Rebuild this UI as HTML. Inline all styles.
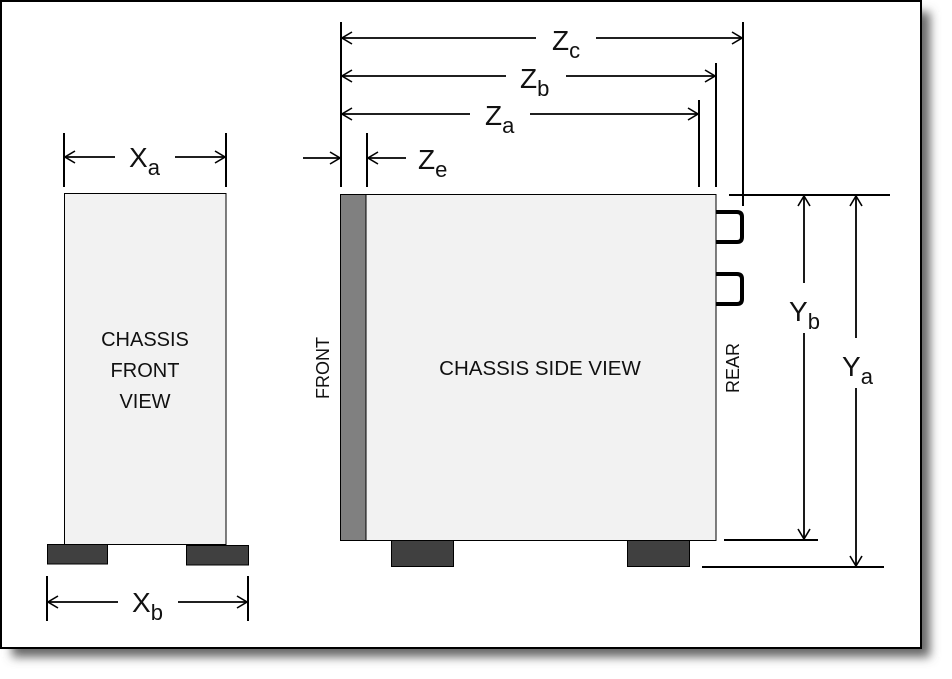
<!DOCTYPE html>
<html><head><meta charset="utf-8"><style>
html,body{margin:0;padding:0;background:#fff;}
svg{display:block;}
text{font-family:"Liberation Sans","DejaVu Sans",sans-serif;fill:#111;}
</style></head><body>
<svg width="952" height="679" viewBox="0 0 952 679" xmlns="http://www.w3.org/2000/svg">
<defs>
<filter id="sh" x="-5%" y="-5%" width="115%" height="115%">
<feGaussianBlur stdDeviation="5"/>
</filter>
<marker id="a" markerWidth="12" markerHeight="14" refX="11" refY="7" orient="auto-start-reverse" markerUnits="userSpaceOnUse">
<path d="M1,1 L11,7 L1,13" fill="none" stroke="#000" stroke-width="1.6"/>
</marker>
</defs>
<rect x="12" y="12" width="918" height="645" fill="#666" filter="url(#sh)"/>
<rect x="1" y="1" width="920" height="647" fill="#fff" stroke="#000" stroke-width="2"/>

<g stroke="#000" stroke-width="2">
<line x1="64" y1="133" x2="64" y2="187"/>
<line x1="226" y1="133" x2="226" y2="187"/>
<line x1="47" y1="576" x2="47" y2="621"/>
<line x1="248" y1="576" x2="248" y2="621"/>
<line x1="341" y1="22" x2="341" y2="187"/>
<line x1="743" y1="22" x2="743" y2="206"/>
<line x1="716" y1="63" x2="716" y2="187"/>
<line x1="699" y1="100" x2="699" y2="187"/>
<line x1="367" y1="133" x2="367" y2="187"/>
<line x1="729" y1="195" x2="890" y2="195"/>
<line x1="724" y1="540" x2="818" y2="540"/>
<line x1="702" y1="567" x2="884" y2="567"/>
</g>

<g stroke="#000" stroke-width="1.8" fill="none">
<line x1="65" y1="157" x2="115" y2="157" marker-start="url(#a)"/>
<line x1="175" y1="157" x2="225" y2="157" marker-end="url(#a)"/>
<line x1="48" y1="602" x2="118" y2="602" marker-start="url(#a)"/>
<line x1="178" y1="602" x2="247" y2="602" marker-end="url(#a)"/>
<line x1="342" y1="38" x2="536" y2="38" marker-start="url(#a)"/>
<line x1="596" y1="38" x2="742" y2="38" marker-end="url(#a)"/>
<line x1="342" y1="76" x2="506" y2="76" marker-start="url(#a)"/>
<line x1="566" y1="76" x2="715" y2="76" marker-end="url(#a)"/>
<line x1="342" y1="114" x2="470" y2="114" marker-start="url(#a)"/>
<line x1="530" y1="114" x2="698" y2="114" marker-end="url(#a)"/>
<line x1="303" y1="158" x2="340" y2="158" marker-end="url(#a)"/>
<line x1="368" y1="158" x2="406" y2="158" marker-start="url(#a)"/>
<line x1="804" y1="196" x2="804" y2="283" marker-start="url(#a)"/>
<line x1="804" y1="333" x2="804" y2="539" marker-end="url(#a)"/>
<line x1="856" y1="196" x2="856" y2="338" marker-start="url(#a)"/>
<line x1="856" y1="388" x2="856" y2="566" marker-end="url(#a)"/>
</g>

<rect x="64.5" y="193.5" width="161.5" height="351" fill="#f2f2f2" stroke="#000" stroke-width="1"/>
<rect x="47.5" y="544.5" width="60" height="19.5" fill="#404040" stroke="#000" stroke-width="1"/>
<rect x="186.5" y="545.5" width="62" height="19.5" fill="#404040" stroke="#000" stroke-width="1"/>
<text x="145" y="346" font-size="20" text-anchor="middle">CHASSIS</text>
<text x="145" y="377" font-size="20" text-anchor="middle">FRONT</text>
<text x="145" y="408" font-size="20" text-anchor="middle">VIEW</text>

<rect x="340.5" y="194.5" width="375.5" height="346" fill="#f2f2f2" stroke="#000" stroke-width="1"/>
<rect x="340.5" y="194.5" width="25.5" height="346" fill="#808080" stroke="#000" stroke-width="1"/>
<rect x="391.5" y="540.5" width="62" height="26" fill="#404040" stroke="#000" stroke-width="1"/>
<rect x="627.5" y="540.5" width="62" height="26" fill="#404040" stroke="#000" stroke-width="1"/>
<path d="M716,212 H737 Q742,212 742,217 V237 Q742,242 737,242 H716" fill="none" stroke="#000" stroke-width="4"/>
<path d="M716,274 H737 Q742,274 742,279 V299 Q742,304 737,304 H716" fill="none" stroke="#000" stroke-width="4"/>
<text x="540" y="375" font-size="20.5" text-anchor="middle">CHASSIS SIDE VIEW</text>
<text transform="translate(329,368) rotate(-90)" font-size="18" text-anchor="middle">FRONT</text>
<text transform="translate(739,368) rotate(-90)" font-size="18" text-anchor="middle">REAR</text>

<g font-size="28">
<text x="129" y="167">X<tspan font-size="22" dy="8">a</tspan></text>
<text x="132" y="612">X<tspan font-size="22" dy="8">b</tspan></text>
<text x="552" y="50">Z<tspan font-size="22" dy="8">c</tspan></text>
<text x="520" y="88">Z<tspan font-size="22" dy="8">b</tspan></text>
<text x="485" y="125">Z<tspan font-size="22" dy="8">a</tspan></text>
<text x="418" y="169">Z<tspan font-size="22" dy="8">e</tspan></text>
<text x="789" y="321">Y<tspan font-size="22" dy="8">b</tspan></text>
<text x="842" y="376">Y<tspan font-size="22" dy="8">a</tspan></text>
</g>
</svg>
</body></html>
